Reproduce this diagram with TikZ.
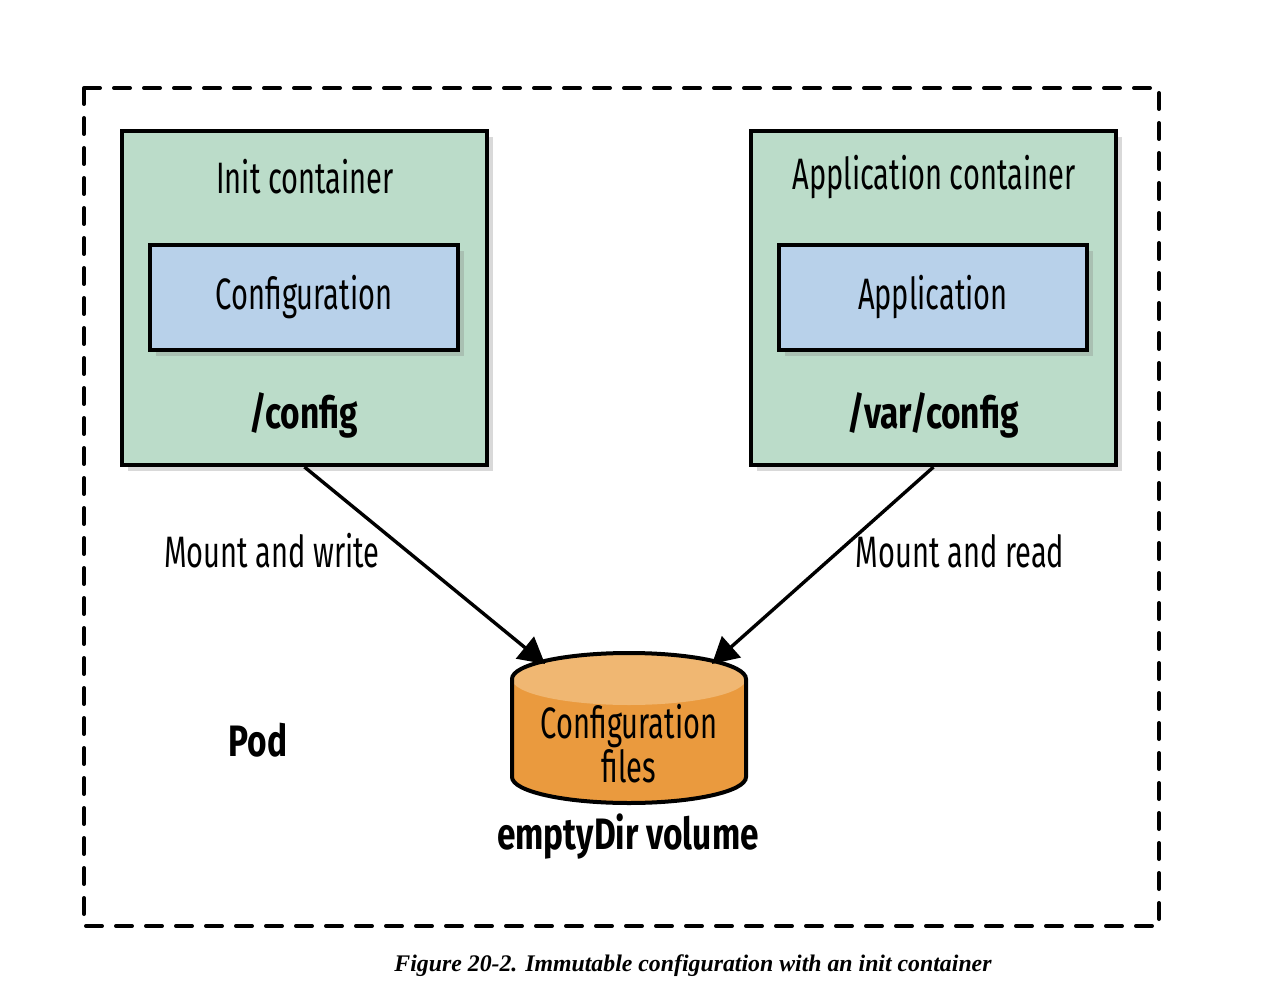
\documentclass[tikz,border=0pt]{standalone}
\usepackage{fontspec}
\setmainfont{Fira Sans}[FakeStretch=0.66,BoldFeatures={FakeStretch=0.76}]
\newfontfamily\capfont{Liberation Serif}
\usetikzlibrary{positioning,calc,shadows,arrows.meta}
\definecolor{podgreen}{RGB}{187,220,201}
\definecolor{podblue}{RGB}{184,209,234}
\definecolor{voltop}{RGB}{240,183,114}
\definecolor{volbody}{RGB}{234,154,62}

\begin{document}
\begin{tikzpicture}[x=0.5pt,y=-0.5pt]
		\tikzset{ctr/.style={draw,line width=2pt,fill=podgreen,minimum width=182.5pt,minimum height=167pt,
				drop shadow={shadow xshift=3pt,shadow yshift=-3pt,opacity=0.3}},
			inner/.style={draw,line width=2pt,fill=podblue,minimum width=154pt,minimum height=52.5pt,
				drop shadow={shadow xshift=3pt,shadow yshift=-3pt,opacity=0.3},font=\fontsize{22}{24}\selectfont},
			lbl/.style={font=\fontsize{22}{24}\selectfont},
			blbl/.style={font=\fontsize{22}{24}\selectfont\bfseries},
			mount/.style={line width=1.7pt,-{Triangle[length=13pt,width=14pt]}}}
		\useasboundingbox (0,0) rectangle (1269,1000);
		\draw[line width=2pt,line cap=round,dash pattern=on 8pt off 7pt] (84,88) rectangle (1159,926);
		% containers
		\node[ctr] (init) at (304.5,298) {};
		\node[ctr] (app) at (933.5,298) {};
		\node[lbl] (initname) at (305,177) {Init container};
		\node[lbl] (appname) at (934,177) {Application container};
		\node[inner] (conf) at (304,297.5) {Configuration};
		\node[inner] (appl) at (933,297.5) {Application};
		\node[blbl] (initpath) at (304,415) {/config};
		\node[blbl] (apppath) at (933,415) {/var/config};
		% emptyDir volume
		\fill[volbody] (512,679) -- (512,777) arc[start angle=180,end angle=360,x radius=58.5pt,y radius=13pt]
			-- (746,679) arc[start angle=0,end angle=180,x radius=58.5pt,y radius=13pt] -- cycle;
		\fill[voltop] (629,679) ellipse[x radius=58.5pt,y radius=13pt];
		\draw[line width=2pt] (512,679) -- (512,777) arc[start angle=180,end angle=360,x radius=58.5pt,y radius=13pt]
			-- (746,679) arc[start angle=0,end angle=180,x radius=58.5pt,y radius=13pt] -- cycle;
		\node[lbl,align=center] (vol) at (629,744) {Configuration\\[-2pt]files};
		\node[blbl] (voltitle) at (628,837) {emptyDir volume};
		\coordinate (volL) at (545,664);
		\coordinate (volR) at (712,664);
		\draw[mount] (init.south) -- (volL);
		\draw[mount] (app.south) -- (volR);
		\node[lbl] (write) at (272,551) {Mount and write};
		\node[lbl] (read) at (960,551) {Mount and read};
		\node[blbl] (pod) at (258,740) {Pod};
		\node[font=\capfont\fontsize{11.9}{14}\selectfont\bfseries\itshape] (caption) at (693,966)
			{Figure 20-2. Immutable configuration with an init container};
	\end{tikzpicture}
\end{document}
